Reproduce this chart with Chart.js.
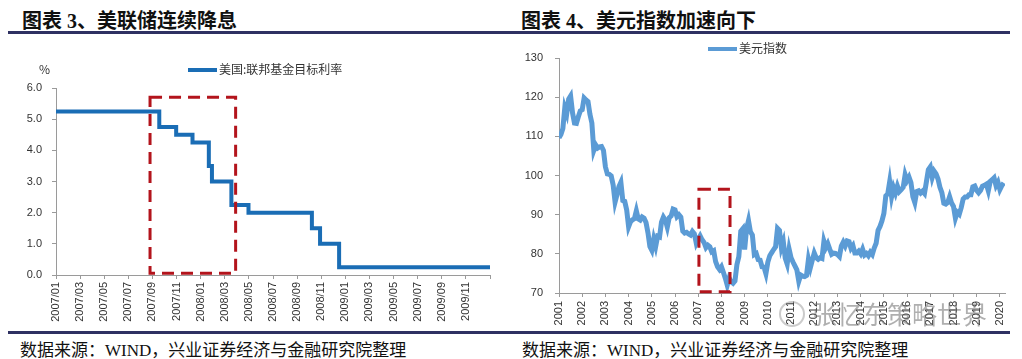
<!DOCTYPE html>
<html><head><meta charset="utf-8">
<script src="https://cdn.jsdelivr.net/npm/chart.js@4.4.1/dist/chart.umd.min.js"></script>
<style>
html,body{margin:0;padding:0;background:#fff;}
body{width:1022px;height:359px;position:relative;overflow:hidden;font-family:"Liberation Sans","Noto Sans CJK SC",sans-serif;}
.title{position:absolute;top:5px;font-family:"Liberation Serif","Noto Sans CJK SC",serif;font-weight:bold;font-size:20px;color:#111;white-space:nowrap;}
.rule{position:absolute;height:3px;background:#2f3162;}
.src{position:absolute;top:336px;font-family:"Liberation Serif","Noto Sans CJK SC",serif;font-size:17px;color:#111;white-space:nowrap;}
.leg{position:absolute;font-size:12px;color:#333;white-space:nowrap;font-family:"Noto Sans CJK SC",sans-serif;line-height:14px;}
.leg i{display:inline-block;width:29px;height:4px;vertical-align:middle;margin-right:2px;position:relative;top:-1px;}
.cv{position:absolute;}
.wm{position:absolute;left:812px;top:299px;font-size:25px;color:rgba(110,110,110,0.55);font-family:"Noto Sans CJK SC",sans-serif;white-space:nowrap;line-height:28px;}
.wmi{position:absolute;left:779px;top:301px;width:22px;height:22px;border:2px solid rgba(140,140,140,0.45);border-radius:50%;}
</style></head>
<body>
<div class="title" style="left:22px;">图表 3、美联储连续降息</div>
<div class="title" style="left:521px;">图表 4、美元指数加速向下</div>
<div class="rule" style="left:8px;width:1002px;top:31px;"></div>
<div class="rule" style="left:8px;width:1002px;top:331px;"></div>
<div class="src" style="left:20px;">数据来源：WIND，兴业证券经济与金融研究院整理</div>
<div class="src" style="left:522px;">数据来源：WIND，兴业证券经济与金融研究院整理</div>

<div class="cv" style="left:0;top:36px;width:510px;height:296px;"><canvas id="c1" width="510" height="296"></canvas></div>
<div class="cv" style="left:510px;top:36px;width:512px;height:296px;"><canvas id="c2" width="512" height="296"></canvas></div>

<div class="leg" style="left:39px;top:62px;">%</div>
<div class="leg" style="left:188px;top:62px;"><i style="background:#1a6db5"></i>美国:联邦基金目标利率</div>
<div class="leg" style="left:708px;top:41px;"><i style="background:#5b9bd5"></i>美元指数</div>

<div class="wmi"></div>
<div class="wm">张忆东策略世界</div>

<script>
// ---------- Data: chart 3 (Fed funds target rate) ----------
const fedChangeDates = ['2007/01/01','2007/09/18','2007/10/31','2007/12/11','2008/01/22','2008/01/30','2008/03/18','2008/04/30','2008/10/08','2008/10/29','2008/12/16','2009/12/31'];
const fedRates = [5.25, 4.75, 4.50, 4.25, 3.50, 3.00, 2.25, 2.00, 1.50, 1.00, 0.25, 0.25];
const fedTickLabels = ['2007/01','2007/03','2007/05','2007/07','2007/09','2007/11','2008/01','2008/03','2008/05','2008/07','2008/09','2008/11','2009/01','2009/03','2009/05','2009/07','2009/09','2009/11'];
const fedSeriesName = '美国:联邦基金目标利率';
// highlight box (data units: month index since 2007/01, rate %)
const fedBox = {x0: 7.8, x1: 14.9, y0: 0.06, y1: 5.7};

// ---------- Data: chart 4 (US dollar index), month-end levels from 2000/12 ----------
const dxyYearLabels = ['2001','2002','2003','2004','2005','2006','2007','2008','2009','2010','2011','2012','2013','2014','2015','2016','2017','2018','2019','2020'];
const dxyValues = [
 109.6,
 110.5,112.0,117.3,115.8,119.5,120.3,116.0,113.4,113.3,115.0,116.5,116.8,
 119.8,119.3,118.9,115.6,113.4,106.4,107.8,107.0,107.3,107.4,106.4,102.2,
 100.4,100.3,99.9,97.6,93.2,95.1,97.2,98.3,93.6,93.4,91.2,86.9,
 88.2,88.7,89.0,91.0,88.9,88.6,89.4,89.1,88.0,85.4,81.9,80.9,
 83.8,81.9,84.5,84.3,88.1,89.4,88.6,86.8,89.2,89.7,91.4,91.2,
 89.5,90.0,89.4,85.8,85.3,85.5,85.1,84.8,85.7,85.1,82.7,83.7,
 84.6,83.6,82.9,81.6,82.2,81.8,80.5,80.8,78.0,76.7,76.0,76.7,
 75.3,73.8,72.0,73.8,72.9,72.5,73.1,77.2,79.3,85.8,86.4,81.1,
 86.4,88.5,85.6,84.8,79.8,80.1,78.5,78.4,76.7,76.6,74.9,77.9,
 79.5,80.3,81.1,81.8,86.5,86.0,81.6,83.1,78.9,77.4,81.2,79.0,
 77.9,76.9,75.9,73.0,74.6,74.3,74.2,74.5,78.6,76.5,78.4,80.2,
 79.0,78.6,79.0,78.8,83.2,81.6,82.6,81.2,79.9,80.2,80.1,79.8,
 79.3,82.0,83.0,82.0,83.3,83.1,81.4,82.1,80.2,80.2,80.7,80.0,
 81.2,79.7,80.1,79.5,80.4,79.8,81.5,82.7,86.0,87.0,88.4,90.3,
 94.8,95.3,98.4,94.6,96.9,95.5,97.3,95.9,96.4,97.0,100.2,98.7,
 99.6,98.2,94.6,93.1,95.9,96.1,95.5,96.0,95.4,98.4,101.5,102.2,
 99.5,101.1,100.4,99.1,97.0,95.6,92.9,92.7,93.1,94.6,93.0,92.1,
 89.1,90.6,90.1,91.8,94.0,94.5,94.5,95.1,95.1,97.1,97.3,96.2,
 95.6,96.2,97.3,97.5,97.8,96.1,98.5,98.9,99.4,97.4,98.3,96.4,
 97.4,98.1
];
const dxySeriesName = '美元指数';
const dxyBox = {x0: 2007.03, x1: 2008.37, y0: 70.3, y1: 96.5};

// ---------- helpers ----------
function monthIndex(s){
  const [y,m,d] = s.split('/').map(Number);
  const dim = new Date(y, m, 0).getDate();
  return (y-2007)*12 + (m-1) + (d-1)/dim;
}
const fedPoints = fedChangeDates.map((d,i)=>({x: monthIndex(d) + (i===fedChangeDates.length-1 ? 1/31 : 0), y: fedRates[i]}));
const dxyPoints = dxyValues.map((v,i)=>({x: 2001 + i/12, y: v}));

const boxPlugin = (box) => ({
  id: 'box',
  afterDatasetsDraw(chart){
    const {ctx, scales:{x,y}} = chart;
    const l = x.getPixelForValue(box.x0), r = x.getPixelForValue(box.x1);
    const t = y.getPixelForValue(box.y1), b = y.getPixelForValue(box.y0);
    ctx.save();
    ctx.strokeStyle = '#b3141c';
    ctx.lineWidth = 3;
    ctx.setLineDash([12,7]);
    ctx.strokeRect(l, t, r-l, b-t);
    ctx.restore();
  }
});

const axisColor = '#9a9a9a';
const tickFont = {family: '"Liberation Sans", Arial, sans-serif', size: 11};
Chart.defaults.color = '#333';
Chart.defaults.animation = false;

new Chart(document.getElementById('c1'), {
  type: 'line',
  data: {datasets: [{label: fedSeriesName, data: fedPoints, stepped: 'before', borderColor: '#1a6db5', borderWidth: 4, pointRadius: 0, fill: false}]},
  options: {
    responsive: false, animation: false,
    layout: {padding: {top: 52, right: 20, left: 0, bottom: 0}},
    plugins: {legend: {display: false}, tooltip: {enabled: false}},
    scales: {
      x: {type: 'linear', min: 0, max: 36,
        ticks: {stepSize: 2, autoSkip: false, maxRotation: 90, minRotation: 90, padding: 3, font: {...tickFont, size: 11},
          callback: (v) => (fedTickLabels[v/2] ?? '')},
        grid: {drawOnChartArea: false, drawTicks: true, tickLength: 4, color: axisColor},
        border: {color: axisColor},
        afterFit: (s) => { s.height = 57; }
      },
      y: {min: 0, max: 6,
        ticks: {stepSize: 1, padding: 10, font: tickFont, callback: (v) => v.toFixed(1)},
        grid: {drawOnChartArea: false, drawTicks: true, tickLength: 4, color: axisColor},
        border: {color: axisColor},
        afterFit: (s) => { s.width = 56; }
      }
    }
  },
  plugins: [boxPlugin(fedBox)]
});

new Chart(document.getElementById('c2'), {
  type: 'line',
  data: {datasets: [{label: dxySeriesName, data: dxyPoints, borderColor: '#5b9bd5', borderWidth: 5, pointRadius: 0, tension: 0, fill: false}]},
  options: {
    responsive: false, animation: false,
    layout: {padding: {top: 22, right: 17, left: 0, bottom: 0}},
    plugins: {legend: {display: false}, tooltip: {enabled: false}},
    scales: {
      x: {type: 'linear', min: 2001, max: 2020.22,
        afterBuildTicks: (s) => { s.ticks = s.ticks.filter(t => Math.abs(t.value - Math.round(t.value)) < 1e-6).map(t => ({value: Math.round(t.value)})); },
        ticks: {stepSize: 1, includeBounds: false, autoSkip: false, maxRotation: 90, minRotation: 90, padding: 4, font: {...tickFont, size: 11},
          callback: (v) => (dxyYearLabels[Math.round(v)-2001] ?? '')},
        grid: {drawOnChartArea: false, drawTicks: true, tickLength: 4, color: axisColor},
        border: {color: axisColor},
        afterFit: (s) => { s.height = 39; }
      },
      y: {min: 70, max: 130,
        ticks: {stepSize: 10, padding: 12, font: tickFont},
        grid: {drawOnChartArea: false, drawTicks: true, tickLength: 4, color: axisColor},
        border: {color: axisColor},
        afterFit: (s) => { s.width = 49; }
      }
    }
  },
  plugins: [boxPlugin(dxyBox)]
});
</script>
</body></html>
